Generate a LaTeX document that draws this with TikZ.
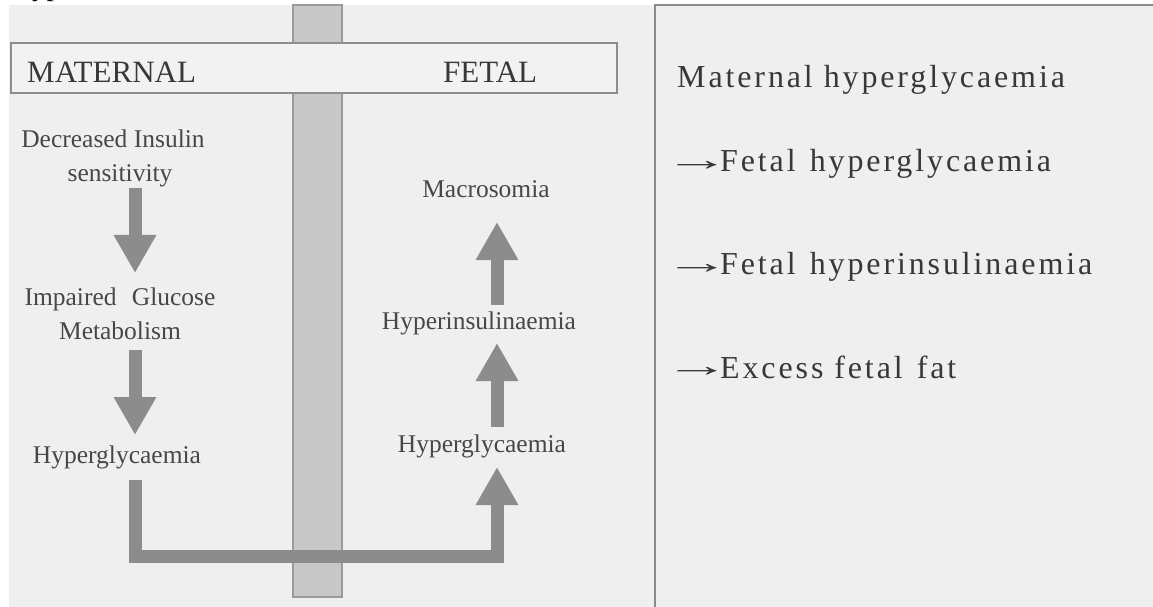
\documentclass[tikz,border=0pt]{standalone}
\usepackage{graphicx}
\usepackage{fontspec}
\setmainfont{Liberation Serif}
\newfontfamily\trackfont[LetterSpace=9]{Liberation Serif}
\newfontfamily\plainfont{Liberation Serif}
\usetikzlibrary{arrows.meta}
\definecolor{bgc}{HTML}{EFEFEF}
\definecolor{hdrfill}{HTML}{F2F2F2}
\definecolor{hdredge}{HTML}{8E8E8E}
\definecolor{barfill}{HTML}{C8C8C8}
\definecolor{baredge}{HTML}{9A9A9A}
\definecolor{arrc}{HTML}{8C8C8C}
\definecolor{paneledge}{HTML}{8A8A8A}
\definecolor{txtl}{HTML}{474747}
\definecolor{txtd}{HTML}{383838}
\newcommand{\longarr}{\makebox[43bp][l]{\plainfont\hspace{-13bp}\raisebox{1.5bp}{\scalebox{2.06}[1]{→}}}}
\begin{document}
\begin{tikzpicture}[x=1bp,y=-1bp,
  lefttext/.style={inner sep=0pt, anchor=base, text=txtl, font=\fontsize{25.5bp}{30bp}\selectfont},
  headtext/.style={inner sep=0pt, anchor=base west, text=txtd, font=\fontsize{31bp}{36bp}\selectfont},
  righttext/.style={inner sep=0pt, anchor=base west, text=txtd, font=\trackfont\fontsize{32bp}{36bp}\selectfont},
  blockarrow/.style={draw=arrc, line width=13bp, line join=miter, -{Triangle[width=40bp,length=38bp]}},
  headerbox/.style={draw=hdredge, fill=hdrfill, line width=1.5bp, inner sep=0pt},
]
\useasboundingbox (0,0) rectangle (1153,607);
\clip (0,0) rectangle (1153,607);
% page and panels
\fill[white] (0,0) rectangle (1153,607);
\fill[bgc] (9,5) rectangle (1153,607);
\draw[paneledge, line width=1.8bp] (655,607) -- (655,5) -- (1153,5);
% cut-off text fragment at top
\node[inner sep=0pt, anchor=base west, font=\fontsize{29bp}{34bp}\selectfont, text=black] (frag) at (11,-4) {Hyp};
% placenta bar
\draw[baredge, fill=barfill, line width=1.2bp] (293,5) rectangle (342,597);
% header
\node[headerbox, minimum width=606bp, minimum height=50bp] (hdr) at (314,68) {};
\node[headtext] (mat) at (27,83) {MATERNAL};
\node[headtext] (fet) at (443,83) {FETAL};
% maternal column
\node[lefttext] (dec1) at (113,148) {Decreased Insulin};
\node[lefttext] (dec2) at (120,182) {sensitivity};
\node[lefttext] (imp1) at (120,306) {Impaired\hspace{0.35em} Glucose};
\node[lefttext] (imp2) at (120,340) {Metabolism};
\node[lefttext] (hypL) at (117,463) {Hyperglycaemia};
% fetal column
\node[lefttext] (mac) at (486,198) {Macrosomia};
\node[lefttext] (hins) at (479,330) {Hyperinsulinaemia};
\node[lefttext] (hypF) at (482,452) {Hyperglycaemia};
% arrow end points
\coordinate (a1s) at (135,188);
\coordinate (a1e) at (135,273);
\coordinate (a2s) at (135,350);
\coordinate (a2e) at (135,435);
\coordinate (a3s) at (497,427);
\coordinate (a3e) at (497,343);
\coordinate (a4s) at (497,305);
\coordinate (a4e) at (497,222);
\coordinate (cs) at (135,480);
\coordinate (c1) at (135,556);
\coordinate (c2) at (497,556);
\coordinate (ce) at (497,467);
\draw[blockarrow] (a1s) -- (a1e);
\draw[blockarrow] (a2s) -- (a2e);
\draw[blockarrow] (a3s) -- (a3e);
\draw[blockarrow] (a4s) -- (a4e);
\draw[blockarrow] (cs) -- (c1) -- (c2) -- (ce);
% right panel text
\node[righttext] (r1) at (677,88) {Maternal hyperglycaemia};
\node[righttext] (r2) at (677,172) {\longarr Fetal\hspace{0.1em} hyperglycaemia};
\node[righttext] (r3) at (677,275) {\longarr Fetal\hspace{0.1em} hyperinsulinaemia};
\node[righttext] (r4) at (677,378) {\longarr Excess fetal\hspace{0.1em} fat};
\end{tikzpicture}
\end{document}
